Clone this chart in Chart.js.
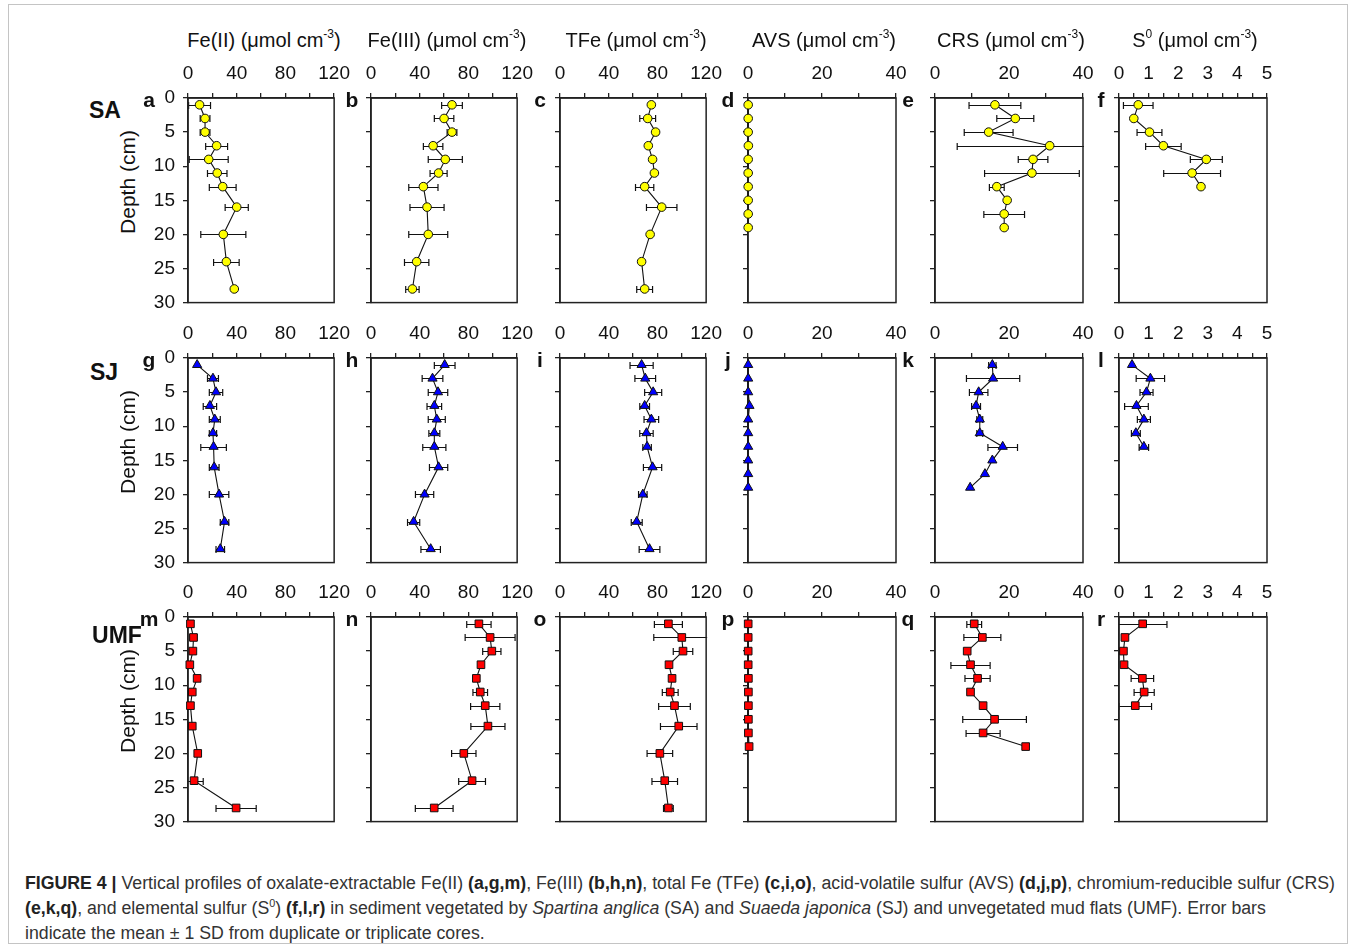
<!DOCTYPE html>
<html>
<head>
<meta charset="utf-8">
<script src="https://cdn.jsdelivr.net/npm/chart.js@4.4.0/dist/chart.umd.min.js"></script>
<style>
  body { margin: 0; background: #fff; }
  #fig { position: relative; width: 1355px; height: 949px; overflow: hidden; font-family: 'Liberation Sans', Arial, sans-serif; color: #111; }
  #frame { position: absolute; left: 8px; top: 4px; width: 1340px; height: 940px; border: 1px solid #c4c4c4; box-sizing: border-box; }
  #fig canvas { position: absolute; }
  .lbl { position: absolute; transform: translate(-50%, -50%); white-space: nowrap; line-height: 1; }
  .title { font-size: 20px; }
  .title sup { font-size: 12px; vertical-align: 9px; line-height: 0; }
  .letter { font-size: 21px; font-weight: bold; }
  .site { font-size: 23px; font-weight: bold; }
  .depth { font-size: 21px; transform: translate(-50%, -50%) rotate(-90deg); }
  .cap { position: absolute; left: 25px; white-space: nowrap; font-family: 'Liberation Sans', Arial, sans-serif; font-size: 18px; color: #333; line-height: 1; transform-origin: 0 50%; }
  .cap b { color: #222; }
  .cap sup { font-size: 11px; vertical-align: 7px; line-height: 0; }
</style>
</head>
<body>
<div id="fig"><div id="frame"></div></div>
<script>
// sampling depths (cm)
const depthFe = [1, 3, 5, 7, 9, 11, 13, 16, 20, 24, 28];
const depthSulf = [1, 3, 5, 7, 9, 11, 13, 15, 17, 19];
const depthS0 = [1, 3, 5, 7, 9, 11, 13];

// SA - Spartina anglica
const saFe2 = [9.5, 14, 14, 23.5, 17, 24, 28.5, 40, 29, 31.5, 38];
const saFe2Sd = [9, 4, 4, 9, 16, 8, 11, 9.5, 18.5, 10.5, 0];
const saFe3 = [66.5, 60, 66.5, 51, 61, 55.5, 43, 46, 47, 37.5, 34];
const saFe3Sd = [8.5, 8, 4, 8, 14, 7, 12, 14, 16, 10, 5.5];
const saTFe = [75, 72, 78.5, 72.5, 76, 77.5, 69.5, 83.5, 74, 67, 69.5];
const saTFeSd = [1, 6.5, 2, 1, 1, 1, 7.5, 12.5, 0, 0, 6.5];
const saAVS = [0.05, 0.05, 0.05, 0.1, 0.05, 0.05, 0.05, 0.05, 0.05, 0.05];
const saAVSSd = [0, 0, 0, 0, 0, 0, 0, 0, 0, 0];
const saCRS = [16.2, 21.7, 14.5, 31, 26.5, 26.2, 16.7, 19.5, 18.7, 18.7];
const saCRSSd = [7, 5, 6.6, 25, 4, 12.8, 2, 0, 5.5, 0];
const saS0 = [0.65, 0.5, 1.03, 1.5, 2.95, 2.47, 2.77];
const saS0Sd = [0.5, 0, 0.42, 0.6, 0.54, 0.96, 0];

// SJ - Suaeda japonica
const sjFe2 = [7.5, 20.5, 23, 18, 22, 20.5, 21, 21.5, 25.5, 30, 26.5];
const sjFe2Sd = [0, 4.5, 5.5, 5.5, 4.5, 3, 10.5, 4, 8, 3.5, 3.5];
const sjFe3 = [60.5, 50.5, 55, 52, 54, 52, 52, 55.5, 44, 35, 49];
const sjFe3Sd = [8.5, 8.5, 8, 6, 7, 4.5, 9.5, 7.5, 7.5, 5, 8];
const sjTFe = [67, 70, 76.5, 69.5, 75, 71, 71.5, 76, 68, 63, 73.5];
const sjTFeSd = [9.5, 8.5, 7, 4, 6, 5.5, 3.5, 7.5, 3.5, 4.5, 8.5];
const sjAVS = [0.05, 0.05, 0.05, 0.4, 0.05, 0.05, 0.05, 0.05, 0.05, 0.05];
const sjAVSSd = [0, 0, 0, 0, 0, 0, 0, 0, 0, 0];
const sjCRS = [15.5, 15.7, 11.8, 11.1, 12.1, 12.1, 18.3, 15.5, 13.5, 9.5];
const sjCRSSd = [1, 7.2, 2.5, 1.2, 0.8, 0.8, 4, 0, 0, 0];
const sjS0 = [0.44, 1.06, 0.93, 0.59, 0.84, 0.57, 0.84];
const sjS0Sd = [0, 0.48, 0.22, 0.4, 0.22, 0.15, 0.16];

// UMF - unvegetated mud flats
const umfFe2 = [2, 4.5, 4, 1.5, 7.5, 3.5, 2, 3.5, 8, 5, 39.5];
const umfFe2Sd = [0, 3, 2, 0, 2, 1, 0, 1, 1.5, 7.5, 16.5];
const umfFe3 = [88.6, 97.8, 99.2, 90.3, 86.5, 89.7, 93.8, 96, 76.2, 83, 51.9];
const umfFe3Sd = [10, 20.5, 7.5, 1.5, 2.5, 6, 12, 14, 10, 11, 15.5];
const umfTFe = [89, 100, 101, 89.5, 92, 90.5, 94, 97.5, 82, 86, 89];
const umfTFeSd = [11.5, 23, 8, 1.5, 1.5, 6.5, 13, 15, 10.5, 10.5, 4];
const umfAVS = [0.05, 0.05, 0.05, 0.05, 0.1, 0.1, 0.1, 0.1, 0.1, 0.3];
const umfAVSSd = [0, 0, 0, 0, 0, 0, 0, 0, 0, 0];
const umfCRS = [10.6, 12.8, 8.7, 9.6, 11.5, 9.6, 13, 16.1, 13, 24.5];
const umfCRSSd = [2, 5, 0, 5.3, 3.4, 0, 0, 8.6, 4.6, 0];
const umfS0 = [0.8, 0.2, 0.15, 0.17, 0.79, 0.85, 0.55];
const umfS0Sd = [0.82, 0, 0, 0, 0.38, 0.34, 0.55];

const colTitles = ['Fe(II)', 'Fe(III)', 'TFe', 'AVS', 'CRS', 'S<sup>0</sup>'];
const sites = ['SA', 'SJ', 'UMF'];
const letters = ['abcdef', 'ghijkl', 'mnopqr'];

Chart.defaults.font.family = "'Liberation Sans', Arial, sans-serif";

const fig = document.getElementById('fig');
const colLeft = [188, 371, 560, 748, 935, 1119];
const rowTop = [97.5, 357.5, 617];
const PW = 148, PH = 210;
const YW = 45, XH = 45, PR = 22, PB = 14;

const axes = [
  { max: 120, step: 20, every: 40 },
  { max: 120, step: 20, every: 40 },
  { max: 120, step: 20, every: 40 },
  { max: 40, step: 10, every: 20 },
  { max: 40, step: 10, every: 20 },
  { max: 5, step: 0.5, every: 1 }
];

const panels = [
  [[saFe2, saFe2Sd, depthFe], [saFe3, saFe3Sd, depthFe], [saTFe, saTFeSd, depthFe],
   [saAVS, saAVSSd, depthSulf], [saCRS, saCRSSd, depthSulf], [saS0, saS0Sd, depthS0]],
  [[sjFe2, sjFe2Sd, depthFe], [sjFe3, sjFe3Sd, depthFe], [sjTFe, sjTFeSd, depthFe],
   [sjAVS, sjAVSSd, depthSulf], [sjCRS, sjCRSSd, depthSulf], [sjS0, sjS0Sd, depthS0]],
  [[umfFe2, umfFe2Sd, depthFe], [umfFe3, umfFe3Sd, depthFe], [umfTFe, umfTFeSd, depthFe],
   [umfAVS, umfAVSSd, depthSulf], [umfCRS, umfCRSSd, depthSulf], [umfS0, umfS0Sd, depthS0]]
];

const markers = [
  { style: 'circle', color: '#ffff00', r: 4.3 },
  { style: 'triangle', color: '#0000ff', r: 5.3 },
  { style: 'rect', color: '#ff0000', r: 5.4 }
];

// horizontal +/- SD bars behind the markers
const errorBars = {
  id: 'errorBars',
  beforeDatasetsDraw(chart) {
    const { ctx, chartArea: a, scales: { x, y } } = chart;
    const ds = chart.data.datasets[0];
    ctx.save();
    ctx.beginPath();
    ctx.rect(a.left, a.top - 4, a.right - a.left + 1, a.bottom - a.top + 8);
    ctx.clip();
    ctx.strokeStyle = '#111';
    ctx.lineWidth = 1.2;
    ds.data.forEach((p, i) => {
      const sd = ds.sd[i];
      if (!sd) return;
      const py = Math.round(y.getPixelForValue(p.y)) + 0.5;
      const x0 = x.getPixelForValue(p.x - sd);
      const x1 = x.getPixelForValue(p.x + sd);
      ctx.beginPath();
      ctx.moveTo(x0, py); ctx.lineTo(x1, py);
      ctx.moveTo(x0, py - 3.5); ctx.lineTo(x0, py + 3.5);
      ctx.moveTo(x1, py - 3.5); ctx.lineTo(x1, py + 3.5);
      ctx.stroke();
    });
    ctx.restore();
  }
};

// closes the panel box on the right and bottom
const panelBox = {
  id: 'panelBox',
  beforeDatasetsDraw(chart) {
    const { ctx, chartArea: a } = chart;
    ctx.save();
    ctx.strokeStyle = '#222';
    ctx.lineWidth = 1.5;
    ctx.strokeRect(a.left, a.top, a.right - a.left, a.bottom - a.top);
    ctx.restore();
  }
};

function tickFont() { return { size: 19 }; }

function makePanel(row, col) {
  const [vals, sd, depth] = panels[row][col];
  const ax = axes[col];
  const mk = markers[row];
  const canvas = document.createElement('canvas');
  canvas.width = PW + YW + PR;
  canvas.height = PH + XH + PB;
  canvas.style.left = (colLeft[col] - YW) + 'px';
  canvas.style.top = (rowTop[row] - XH) + 'px';
  fig.appendChild(canvas);

  new Chart(canvas, {
    type: 'scatter',
    data: {
      datasets: [{
        data: vals.map((v, i) => ({ x: v, y: depth[i] })),
        sd: sd,
        showLine: true,
        borderColor: '#111',
        borderWidth: 1.1,
        pointStyle: mk.style,
        pointRadius: mk.r,
        pointBackgroundColor: mk.color,
        pointBorderColor: '#111',
        pointBorderWidth: 1,
        clip: false
      }]
    },
    options: {
      responsive: false,
      animation: false,
      devicePixelRatio: 1,
      layout: { padding: { left: 0, top: 0, right: PR, bottom: PB } },
      plugins: { legend: { display: false }, tooltip: { enabled: false } },
      scales: {
        x: {
          type: 'linear', position: 'top', min: 0, max: ax.max,
          ticks: {
            stepSize: ax.step, autoSkip: false, maxRotation: 0, padding: 8,
            color: '#111', font: tickFont(),
            callback: v => (Math.abs(v / ax.every - Math.round(v / ax.every)) < 1e-6 ? String(v) : '')
          },
          grid: { drawOnChartArea: false, drawTicks: true, tickLength: 5, color: '#222', lineWidth: 1.3 },
          border: { display: true, color: '#222', width: 1.5 },
          afterFit: s => { s.height = XH; }
        },
        y: {
          type: 'linear', position: 'left', reverse: true, min: 0, max: 30,
          ticks: {
            stepSize: 5, padding: 8, color: '#111', font: tickFont(),
            callback: v => (col === 0 ? String(v) : '')
          },
          grid: { drawOnChartArea: false, drawTicks: true, tickLength: 5, color: '#222', lineWidth: 1.3 },
          border: { display: true, color: '#222', width: 1.5 },
          afterFit: s => { s.width = YW; }
        }
      }
    },
    plugins: [errorBars, panelBox]
  });
}

function label(cls, html, x, y) {
  const d = document.createElement('div');
  d.className = 'lbl ' + cls;
  d.innerHTML = html;
  d.style.left = x + 'px';
  d.style.top = y + 'px';
  fig.appendChild(d);
}

for (let r = 0; r < 3; r++) {
  for (let c = 0; c < 6; c++) makePanel(r, c);
}

colTitles.forEach((t, c) => {
  label('title', t + ' (&mu;mol cm<sup>-3</sup>)', colLeft[c] + PW / 2 + 2, 40);
});

const letterX = [149, 352, 540, 728, 908, 1101];
letters.forEach((row, r) => {
  row.split('').forEach((ch, c) => label('letter', ch, letterX[c], rowTop[r] + 1));
});

const siteX = [105, 104, 117];
const siteY = [110, 372, 635];
sites.forEach((s, r) => label('site', s, siteX[r], siteY[r]));
rowTop.forEach(t => label('depth', 'Depth (cm)', 127, t + 84));

const capLines = [
  '<b>FIGURE 4 |</b> Vertical profiles of oxalate-extractable Fe(II) <b>(a,g,m)</b>, Fe(III) <b>(b,h,n)</b>, total Fe (TFe) <b>(c,i,o)</b>, acid-volatile sulfur (AVS) <b>(d,j,p)</b>, chromium-reducible sulfur (CRS)',
  '<b>(e,k,q)</b>, and elemental sulfur (S<sup>0</sup>) <b>(f,l,r)</b> in sediment vegetated by <i>Spartina anglica</i> (SA) and <i>Suaeda japonica</i> (SJ) and unvegetated mud flats (UMF). Error bars',
  'indicate the mean &plusmn; 1 SD from duplicate or triplicate cores.'
];
const capDivs = capLines.map((t, i) => {
  const d = document.createElement('div');
  d.className = 'cap';
  d.innerHTML = t;
  d.style.top = (874 + i * 25) + 'px';
  fig.appendChild(d);
  return d;
});
// the caption face is condensed: squeeze the lines to the printed width
const capScale = 1310 / capDivs[0].getBoundingClientRect().width;
capDivs.forEach(d => { d.style.transform = 'scaleX(' + capScale.toFixed(4) + ')'; });
</script>
</body>
</html>
